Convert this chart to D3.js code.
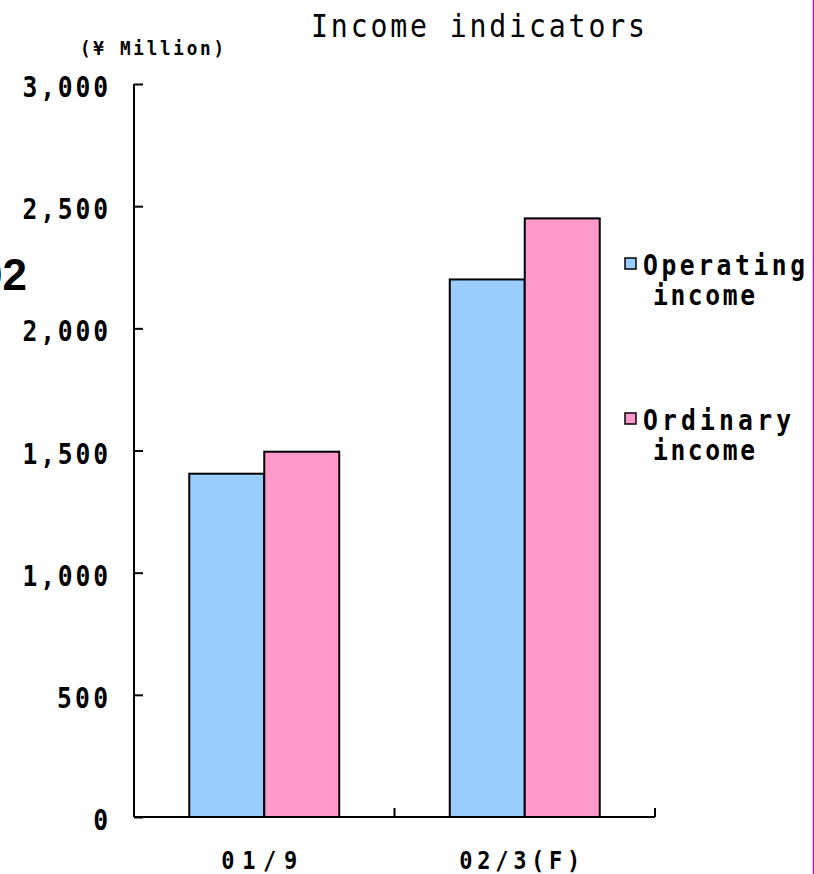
<!DOCTYPE html>
<html><head><meta charset="utf-8">
<script src="https://cdn.jsdelivr.net/npm/d3@7"></script>
<style>html,body{margin:0;padding:0;background:#fff;}svg{display:block;}</style>
</head><body>
<div id="chart"></div>
<script>
const categories = ["01/9", "02/3(F)"];
const seriesNames = ["Operating income", "Ordinary income"];
const operatingIncome = [1405, 2200];
const ordinaryIncome = [1495, 2450];
const yTicks = [0, 500, 1000, 1500, 2000, 2500, 3000];
const yTickLabels = ["0", "500", "1,000", "1,500", "2,000", "2,500", "3,000"];
const colors = ["#99ccff", "#ff99cc"];

const W = 814, H = 874;
const svg = d3.select("#chart").append("svg").attr("width", W).attr("height", H);
const mono = "'DejaVu Sans Mono', monospace";
const SX = 0.88;

function label(parent, o) {
  const t = parent.append("text")
    .attr("transform", `translate(${o.x},${o.y}) scale(${SX},1)`)
    .attr("x", 0).attr("y", 0)
    .attr("text-anchor", o.anchor || "start")
    .attr("font-family", mono)
    .attr("font-weight", o.weight || "bold")
    .attr("font-size", o.size)
    .attr("fill", "#000")
    .text(o.text);
  if (o.width && o.text.length > 1) t.attr("textLength", o.width / SX).attr("lengthAdjust", "spacing");
  return t;
}

const x = d3.scaleBand().domain(categories).range([134, 655]).paddingInner(0).paddingOuter(0);
const xs = d3.scaleBand().domain(seriesNames).range([0, x.bandwidth()]).paddingInner(0).paddingOuter(0.737);
const y = d3.scaleLinear().domain([0, 3000]).range([817, 84]);

const data = categories.map((c, i) => ({cat: c, vals: [operatingIncome[i], ordinaryIncome[i]]}));

// bars
const g = svg.append("g");
data.forEach(d => {
  d.vals.forEach((v, j) => {
    g.append("rect")
      .attr("x", x(d.cat) + xs(seriesNames[j]))
      .attr("y", y(v))
      .attr("width", xs.bandwidth())
      .attr("height", y(0) - y(v))
      .attr("fill", colors[j])
      .attr("stroke", "#000")
      .attr("stroke-width", 2);
  });
});

// y axis
const yAxis = d3.axisRight(y).tickValues(yTicks).tickSize(9).tickFormat("");
const ya = svg.append("g").attr("transform", "translate(134,0)").call(yAxis);
ya.select(".domain").attr("d", `M0,${y(3000)}V${y(0)}`).attr("stroke", "#000").attr("stroke-width", 2);
ya.selectAll(".tick line").attr("stroke", "#000").attr("stroke-width", 2);

// y tick labels
const ylg = svg.append("g");
yTicks.forEach((d, i) => {
  const s = yTickLabels[i];
  label(ylg, {x: 108, y: y(d) + 13, text: s, size: 28, anchor: "end", width: s.length * 17.2 - 0.5});
});

// x axis
const xAxisG = svg.append("g");
xAxisG.append("path").attr("d", `M${x.range()[0]},${y(0)}H${x.range()[1]}`).attr("stroke", "#000").attr("stroke-width", 2).attr("fill", "none");
const xTickPos = [x.range()[0]].concat(categories.map(c => x(c) + x.bandwidth()));
xAxisG.selectAll("line").data(xTickPos).join("line")
  .attr("x1", d => d).attr("x2", d => d)
  .attr("y1", y(0)).attr("y2", y(0) - 9)
  .attr("stroke", "#000").attr("stroke-width", 2);

const xLabelWidths = [76, 121];
const xlg = svg.append("g");
categories.forEach((c, i) => {
  label(xlg, {x: x(c) + x.bandwidth() / 2 - 5, y: 869, text: c, size: 25, anchor: "middle", width: xLabelWidths[i]});
});

// title
label(svg, {x: 478, y: 37, text: "Income indicators", size: 32, weight: "normal", anchor: "middle", width: 334});

// unit
label(svg, {x: 80, y: 55, text: "(¥ Million)", size: 20, width: 144});

// stray "02"
svg.append("text").attr("x", 27).attr("y", 290).attr("text-anchor", "end")
  .attr("font-family", "'Liberation Sans', Arial, sans-serif").attr("font-weight", "bold").attr("font-size", 44)
  .text("02");

// legend
const legendRows = [
  {lines: ["Operating", "income"], top: 255, w: 162},
  {lines: ["Ordinary", "income"], top: 410, w: 148}
];
const lg = svg.append("g");
legendRows.forEach((r, i) => {
  lg.append("rect").attr("x", 625).attr("y", r.top + 3).attr("width", 11).attr("height", 11)
    .attr("fill", colors[i]).attr("stroke", "#000").attr("stroke-width", 1.5);
  label(lg, {x: 643, y: r.top + 20, text: r.lines[0], size: 28, width: r.w});
  label(lg, {x: 653, y: r.top + 50, text: r.lines[1], size: 28, width: 102});
});

// right border line
svg.append("line").attr("x1", 813.5).attr("x2", 813.5).attr("y1", 0).attr("y2", H)
  .attr("stroke", "#cc00cc").attr("stroke-width", 1.5);
</script>
</body></html>
